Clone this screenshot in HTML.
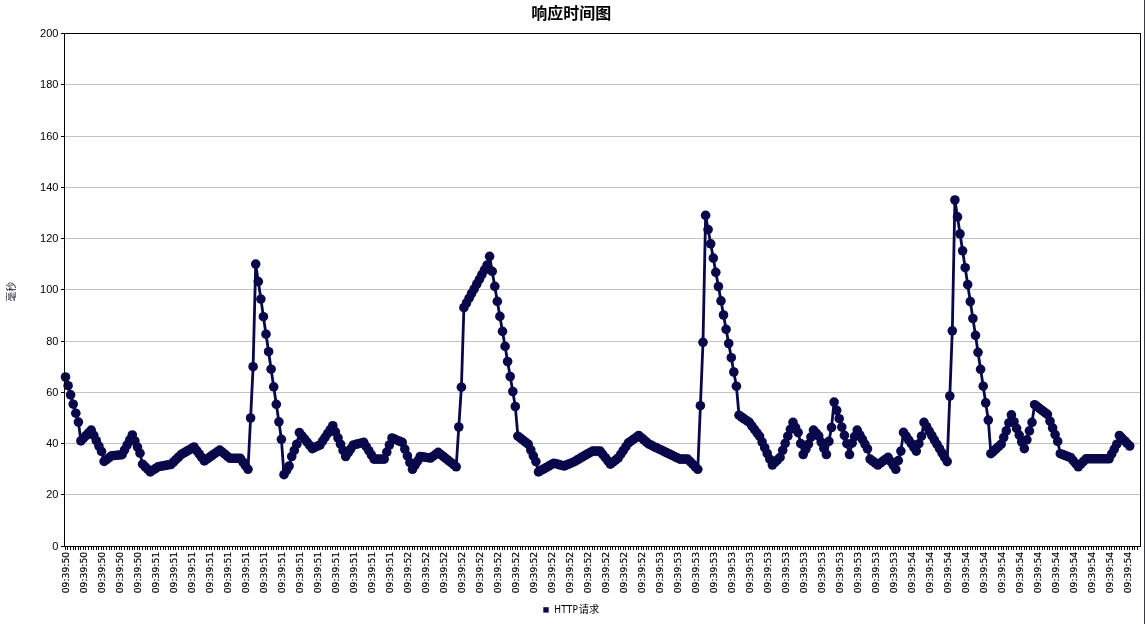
<!DOCTYPE html><html><head><meta charset="utf-8"><title>响应时间图</title><style>html,body{margin:0;padding:0;background:#fff}svg{display:block;will-change:transform}text{font-family:"Liberation Sans","Noto Sans CJK SC",sans-serif}.xl{font-family:"DejaVu Sans","Liberation Sans",sans-serif}.lg{font-family:"DejaVu Sans Condensed","Liberation Sans","Noto Sans CJK SC",sans-serif}</style></head><body>
<svg width="1145" height="624" viewBox="0 0 1145 624">
<rect width="1145" height="624" fill="#fff"/>
<rect x="65" y="494" width="1075" height="1" fill="#c3c3c7" shape-rendering="crispEdges"/>
<rect x="65" y="443" width="1075" height="1" fill="#c3c3c7" shape-rendering="crispEdges"/>
<rect x="65" y="392" width="1075" height="1" fill="#c3c3c7" shape-rendering="crispEdges"/>
<rect x="65" y="341" width="1075" height="1" fill="#c3c3c7" shape-rendering="crispEdges"/>
<rect x="65" y="289" width="1075" height="1" fill="#c3c3c7" shape-rendering="crispEdges"/>
<rect x="65" y="238" width="1075" height="1" fill="#c3c3c7" shape-rendering="crispEdges"/>
<rect x="65" y="187" width="1075" height="1" fill="#c3c3c7" shape-rendering="crispEdges"/>
<rect x="65" y="136" width="1075" height="1" fill="#c3c3c7" shape-rendering="crispEdges"/>
<rect x="65" y="84" width="1075" height="1" fill="#c3c3c7" shape-rendering="crispEdges"/>
<polyline points="65.5,377.0 68.1,385.7 70.6,394.9 73.2,404.2 75.8,413.2 78.4,422.1 80.9,440.9 83.5,438.2 86.1,435.5 88.6,432.8 91.2,430.1 93.8,435.4 96.3,440.7 98.9,446.1 101.5,451.4 104.1,461.4 106.6,459.5 109.2,457.6 111.8,455.7 114.3,455.5 116.9,455.2 119.5,455.0 122.1,454.7 124.6,449.8 127.2,444.8 129.8,439.9 132.3,435.0 134.9,441.0 137.5,447.1 140.0,453.2 142.6,464.2 145.2,466.8 147.8,469.3 150.3,471.9 152.9,470.2 155.5,468.5 158.0,466.8 160.6,466.3 163.2,465.8 165.7,465.4 168.3,464.9 170.9,464.5 173.5,462.0 176.0,459.5 178.6,457.0 181.2,454.5 183.7,453.0 186.3,451.5 188.9,450.0 191.5,448.5 194.0,447.0 196.6,450.5 199.2,453.9 201.7,457.4 204.3,460.9 206.9,459.1 209.4,457.3 212.0,455.5 214.6,453.7 217.2,451.9 219.7,450.1 222.3,452.1 224.9,454.2 227.4,456.3 230.0,458.3 232.6,458.3 235.2,458.3 237.7,458.3 240.3,458.3 242.9,462.0 245.4,465.7 248.0,469.3 250.6,418.0 253.1,366.7 255.7,264.1 258.3,281.6 260.9,299.1 263.4,316.7 266.0,334.2 268.6,351.7 271.1,369.2 273.7,386.8 276.3,404.3 278.9,421.8 281.4,439.3 284.0,474.7 286.6,470.4 289.1,466.0 291.7,456.5 294.3,450.4 296.8,444.2 299.4,432.6 302.0,435.8 304.6,439.0 307.1,442.2 309.7,445.4 312.3,448.6 314.8,447.4 317.4,446.2 320.0,445.0 322.6,441.1 325.1,437.3 327.7,433.4 330.3,429.6 332.8,425.7 335.4,431.9 338.0,438.0 340.5,444.2 343.1,450.4 345.7,456.5 348.3,452.7 350.8,448.8 353.4,445.0 356.0,444.3 358.5,443.7 361.1,443.0 363.7,442.4 366.2,446.6 368.8,450.7 371.4,454.9 374.0,459.1 376.5,459.1 379.1,459.1 381.7,459.1 384.2,459.1 386.8,452.1 389.4,445.0 392.0,438.0 394.5,439.1 397.1,440.2 399.7,441.3 402.2,442.4 404.8,449.1 407.4,455.9 409.9,462.6 412.5,469.3 415.1,465.1 417.7,460.8 420.2,456.5 422.8,456.9 425.4,457.3 427.9,457.7 430.5,458.0 433.1,456.2 435.7,454.3 438.2,452.4 440.8,454.5 443.4,456.5 445.9,458.6 448.5,460.6 451.1,462.7 453.6,464.7 456.2,466.8 458.8,427.0 461.4,387.2 463.9,307.7 466.5,303.0 469.1,298.2 471.6,293.5 474.2,288.8 476.8,284.0 479.4,279.3 481.9,274.6 484.5,269.9 487.1,265.1 489.6,256.4 492.2,271.4 494.8,286.4 497.3,301.4 499.9,316.4 502.5,331.4 505.1,346.4 507.6,361.5 510.2,376.5 512.8,391.5 515.3,406.5 517.9,436.2 520.5,438.2 523.0,440.2 525.6,442.2 528.2,444.2 530.8,450.0 533.3,455.8 535.9,461.6 538.5,471.9 541.0,470.4 543.6,469.0 546.2,467.5 548.8,466.1 551.3,464.6 553.9,463.2 556.5,463.9 559.0,464.6 561.6,465.3 564.2,466.0 566.7,464.9 569.3,463.8 571.9,462.7 574.5,461.6 577.0,460.1 579.6,458.6 582.2,457.0 584.7,455.5 587.3,454.0 589.9,452.6 592.5,451.1 595.0,451.1 597.6,451.1 600.2,451.1 602.7,454.4 605.3,457.7 607.9,460.9 610.4,464.2 613.0,462.2 615.6,460.1 618.2,458.0 620.7,454.3 623.3,450.5 625.9,446.7 628.4,442.9 631.0,441.1 633.6,439.2 636.2,437.3 638.7,435.5 641.3,437.7 643.9,439.8 646.4,442.0 649.0,444.2 651.6,445.4 654.1,446.7 656.7,447.9 659.3,449.2 661.9,450.4 664.4,451.6 667.0,452.9 669.6,454.1 672.1,455.4 674.7,456.6 677.3,457.8 679.9,459.1 682.4,459.1 685.0,459.1 687.6,459.1 690.1,461.6 692.7,464.2 695.3,466.8 697.8,469.3 700.4,405.7 703.0,342.3 705.6,215.4 708.1,229.6 710.7,243.8 713.3,258.1 715.8,272.3 718.4,286.5 721.0,300.8 723.5,315.0 726.1,329.3 728.7,343.5 731.3,357.7 733.8,372.0 736.4,386.2 739.0,415.2 741.5,417.0 744.1,418.8 746.7,420.6 749.3,422.4 751.8,425.8 754.4,429.3 757.0,432.8 759.5,436.2 762.1,442.0 764.7,447.7 767.2,453.5 769.8,459.2 772.4,465.0 775.0,462.4 777.5,459.8 780.1,457.3 782.7,450.3 785.2,443.3 787.8,436.2 790.4,429.3 793.0,422.4 795.5,427.5 798.1,432.6 800.7,443.6 803.2,454.5 805.8,449.3 808.4,444.2 810.9,437.1 813.5,430.1 816.1,433.0 818.7,436.0 821.2,442.1 823.8,448.3 826.4,454.5 828.9,441.4 831.5,427.5 834.1,402.1 836.7,410.4 839.2,418.7 841.8,427.1 844.4,435.4 846.9,443.7 849.5,454.5 852.1,443.2 854.6,436.6 857.2,430.1 859.8,434.8 862.4,439.4 864.9,444.1 867.5,448.8 870.1,459.1 872.6,461.0 875.2,463.0 877.8,465.0 880.3,463.0 882.9,461.1 885.5,459.2 888.1,457.3 890.6,461.3 893.2,465.3 895.8,469.3 898.3,460.6 900.9,451.1 903.5,432.4 906.1,436.1 908.6,439.9 911.2,443.6 913.8,447.4 916.3,451.1 918.9,443.7 921.5,436.2 924.0,422.4 926.6,426.7 929.2,431.1 931.8,435.5 934.3,439.8 936.9,444.2 939.5,448.6 942.0,452.9 944.6,457.3 947.2,461.6 949.8,396.0 952.3,330.8 954.9,200.0 957.5,216.9 960.0,233.8 962.6,250.8 965.2,267.7 967.7,284.6 970.3,301.6 972.9,318.5 975.5,335.4 978.0,352.3 980.6,369.3 983.2,386.2 985.7,402.9 988.3,420.1 990.9,453.7 993.5,451.3 996.0,448.9 998.6,446.6 1001.2,444.2 1003.7,437.5 1006.3,430.9 1008.9,422.9 1011.4,414.9 1014.0,421.7 1016.6,428.4 1019.2,435.1 1021.7,441.8 1024.3,448.6 1026.9,439.8 1029.4,430.9 1032.0,422.4 1034.6,404.7 1037.2,406.6 1039.7,408.6 1042.3,410.5 1044.9,412.5 1047.4,414.4 1050.0,421.2 1052.6,427.9 1055.1,434.6 1057.7,441.4 1060.3,453.7 1062.9,454.6 1065.4,455.6 1068.0,456.6 1070.6,457.5 1073.1,460.6 1075.7,463.7 1078.3,466.8 1080.8,464.1 1083.4,461.5 1086.0,458.8 1088.6,458.8 1091.1,458.8 1093.7,458.8 1096.3,458.8 1098.8,458.8 1101.4,458.8 1104.0,458.8 1106.6,458.8 1109.1,458.8 1111.7,453.9 1114.3,449.1 1116.8,444.2 1119.4,435.5 1122.0,438.1 1124.5,440.7 1127.1,443.4 1129.7,446.0" fill="none" stroke="#08084a" stroke-width="2.8" stroke-linejoin="round" stroke-linecap="round"/>
<g fill="#08084a"><circle cx="65.5" cy="377.0" r="4.8"/><circle cx="68.1" cy="385.7" r="4.8"/><circle cx="70.6" cy="394.9" r="4.8"/><circle cx="73.2" cy="404.2" r="4.8"/><circle cx="75.8" cy="413.2" r="4.8"/><circle cx="78.4" cy="422.1" r="4.8"/><circle cx="80.9" cy="440.9" r="4.8"/><circle cx="83.5" cy="438.2" r="4.8"/><circle cx="86.1" cy="435.5" r="4.8"/><circle cx="88.6" cy="432.8" r="4.8"/><circle cx="91.2" cy="430.1" r="4.8"/><circle cx="93.8" cy="435.4" r="4.8"/><circle cx="96.3" cy="440.7" r="4.8"/><circle cx="98.9" cy="446.1" r="4.8"/><circle cx="101.5" cy="451.4" r="4.8"/><circle cx="104.1" cy="461.4" r="4.8"/><circle cx="106.6" cy="459.5" r="4.8"/><circle cx="109.2" cy="457.6" r="4.8"/><circle cx="111.8" cy="455.7" r="4.8"/><circle cx="114.3" cy="455.5" r="4.8"/><circle cx="116.9" cy="455.2" r="4.8"/><circle cx="119.5" cy="455.0" r="4.8"/><circle cx="122.1" cy="454.7" r="4.8"/><circle cx="124.6" cy="449.8" r="4.8"/><circle cx="127.2" cy="444.8" r="4.8"/><circle cx="129.8" cy="439.9" r="4.8"/><circle cx="132.3" cy="435.0" r="4.8"/><circle cx="134.9" cy="441.0" r="4.8"/><circle cx="137.5" cy="447.1" r="4.8"/><circle cx="140.0" cy="453.2" r="4.8"/><circle cx="142.6" cy="464.2" r="4.8"/><circle cx="145.2" cy="466.8" r="4.8"/><circle cx="147.8" cy="469.3" r="4.8"/><circle cx="150.3" cy="471.9" r="4.8"/><circle cx="152.9" cy="470.2" r="4.8"/><circle cx="155.5" cy="468.5" r="4.8"/><circle cx="158.0" cy="466.8" r="4.8"/><circle cx="160.6" cy="466.3" r="4.8"/><circle cx="163.2" cy="465.8" r="4.8"/><circle cx="165.7" cy="465.4" r="4.8"/><circle cx="168.3" cy="464.9" r="4.8"/><circle cx="170.9" cy="464.5" r="4.8"/><circle cx="173.5" cy="462.0" r="4.8"/><circle cx="176.0" cy="459.5" r="4.8"/><circle cx="178.6" cy="457.0" r="4.8"/><circle cx="181.2" cy="454.5" r="4.8"/><circle cx="183.7" cy="453.0" r="4.8"/><circle cx="186.3" cy="451.5" r="4.8"/><circle cx="188.9" cy="450.0" r="4.8"/><circle cx="191.5" cy="448.5" r="4.8"/><circle cx="194.0" cy="447.0" r="4.8"/><circle cx="196.6" cy="450.5" r="4.8"/><circle cx="199.2" cy="453.9" r="4.8"/><circle cx="201.7" cy="457.4" r="4.8"/><circle cx="204.3" cy="460.9" r="4.8"/><circle cx="206.9" cy="459.1" r="4.8"/><circle cx="209.4" cy="457.3" r="4.8"/><circle cx="212.0" cy="455.5" r="4.8"/><circle cx="214.6" cy="453.7" r="4.8"/><circle cx="217.2" cy="451.9" r="4.8"/><circle cx="219.7" cy="450.1" r="4.8"/><circle cx="222.3" cy="452.1" r="4.8"/><circle cx="224.9" cy="454.2" r="4.8"/><circle cx="227.4" cy="456.3" r="4.8"/><circle cx="230.0" cy="458.3" r="4.8"/><circle cx="232.6" cy="458.3" r="4.8"/><circle cx="235.2" cy="458.3" r="4.8"/><circle cx="237.7" cy="458.3" r="4.8"/><circle cx="240.3" cy="458.3" r="4.8"/><circle cx="242.9" cy="462.0" r="4.8"/><circle cx="245.4" cy="465.7" r="4.8"/><circle cx="248.0" cy="469.3" r="4.8"/><circle cx="250.6" cy="418.0" r="4.8"/><circle cx="253.1" cy="366.7" r="4.8"/><circle cx="255.7" cy="264.1" r="4.8"/><circle cx="258.3" cy="281.6" r="4.8"/><circle cx="260.9" cy="299.1" r="4.8"/><circle cx="263.4" cy="316.7" r="4.8"/><circle cx="266.0" cy="334.2" r="4.8"/><circle cx="268.6" cy="351.7" r="4.8"/><circle cx="271.1" cy="369.2" r="4.8"/><circle cx="273.7" cy="386.8" r="4.8"/><circle cx="276.3" cy="404.3" r="4.8"/><circle cx="278.9" cy="421.8" r="4.8"/><circle cx="281.4" cy="439.3" r="4.8"/><circle cx="284.0" cy="474.7" r="4.8"/><circle cx="286.6" cy="470.4" r="4.8"/><circle cx="289.1" cy="466.0" r="4.8"/><circle cx="291.7" cy="456.5" r="4.8"/><circle cx="294.3" cy="450.4" r="4.8"/><circle cx="296.8" cy="444.2" r="4.8"/><circle cx="299.4" cy="432.6" r="4.8"/><circle cx="302.0" cy="435.8" r="4.8"/><circle cx="304.6" cy="439.0" r="4.8"/><circle cx="307.1" cy="442.2" r="4.8"/><circle cx="309.7" cy="445.4" r="4.8"/><circle cx="312.3" cy="448.6" r="4.8"/><circle cx="314.8" cy="447.4" r="4.8"/><circle cx="317.4" cy="446.2" r="4.8"/><circle cx="320.0" cy="445.0" r="4.8"/><circle cx="322.6" cy="441.1" r="4.8"/><circle cx="325.1" cy="437.3" r="4.8"/><circle cx="327.7" cy="433.4" r="4.8"/><circle cx="330.3" cy="429.6" r="4.8"/><circle cx="332.8" cy="425.7" r="4.8"/><circle cx="335.4" cy="431.9" r="4.8"/><circle cx="338.0" cy="438.0" r="4.8"/><circle cx="340.5" cy="444.2" r="4.8"/><circle cx="343.1" cy="450.4" r="4.8"/><circle cx="345.7" cy="456.5" r="4.8"/><circle cx="348.3" cy="452.7" r="4.8"/><circle cx="350.8" cy="448.8" r="4.8"/><circle cx="353.4" cy="445.0" r="4.8"/><circle cx="356.0" cy="444.3" r="4.8"/><circle cx="358.5" cy="443.7" r="4.8"/><circle cx="361.1" cy="443.0" r="4.8"/><circle cx="363.7" cy="442.4" r="4.8"/><circle cx="366.2" cy="446.6" r="4.8"/><circle cx="368.8" cy="450.7" r="4.8"/><circle cx="371.4" cy="454.9" r="4.8"/><circle cx="374.0" cy="459.1" r="4.8"/><circle cx="376.5" cy="459.1" r="4.8"/><circle cx="379.1" cy="459.1" r="4.8"/><circle cx="381.7" cy="459.1" r="4.8"/><circle cx="384.2" cy="459.1" r="4.8"/><circle cx="386.8" cy="452.1" r="4.8"/><circle cx="389.4" cy="445.0" r="4.8"/><circle cx="392.0" cy="438.0" r="4.8"/><circle cx="394.5" cy="439.1" r="4.8"/><circle cx="397.1" cy="440.2" r="4.8"/><circle cx="399.7" cy="441.3" r="4.8"/><circle cx="402.2" cy="442.4" r="4.8"/><circle cx="404.8" cy="449.1" r="4.8"/><circle cx="407.4" cy="455.9" r="4.8"/><circle cx="409.9" cy="462.6" r="4.8"/><circle cx="412.5" cy="469.3" r="4.8"/><circle cx="415.1" cy="465.1" r="4.8"/><circle cx="417.7" cy="460.8" r="4.8"/><circle cx="420.2" cy="456.5" r="4.8"/><circle cx="422.8" cy="456.9" r="4.8"/><circle cx="425.4" cy="457.3" r="4.8"/><circle cx="427.9" cy="457.7" r="4.8"/><circle cx="430.5" cy="458.0" r="4.8"/><circle cx="433.1" cy="456.2" r="4.8"/><circle cx="435.7" cy="454.3" r="4.8"/><circle cx="438.2" cy="452.4" r="4.8"/><circle cx="440.8" cy="454.5" r="4.8"/><circle cx="443.4" cy="456.5" r="4.8"/><circle cx="445.9" cy="458.6" r="4.8"/><circle cx="448.5" cy="460.6" r="4.8"/><circle cx="451.1" cy="462.7" r="4.8"/><circle cx="453.6" cy="464.7" r="4.8"/><circle cx="456.2" cy="466.8" r="4.8"/><circle cx="458.8" cy="427.0" r="4.8"/><circle cx="461.4" cy="387.2" r="4.8"/><circle cx="463.9" cy="307.7" r="4.8"/><circle cx="466.5" cy="303.0" r="4.8"/><circle cx="469.1" cy="298.2" r="4.8"/><circle cx="471.6" cy="293.5" r="4.8"/><circle cx="474.2" cy="288.8" r="4.8"/><circle cx="476.8" cy="284.0" r="4.8"/><circle cx="479.4" cy="279.3" r="4.8"/><circle cx="481.9" cy="274.6" r="4.8"/><circle cx="484.5" cy="269.9" r="4.8"/><circle cx="487.1" cy="265.1" r="4.8"/><circle cx="489.6" cy="256.4" r="4.8"/><circle cx="492.2" cy="271.4" r="4.8"/><circle cx="494.8" cy="286.4" r="4.8"/><circle cx="497.3" cy="301.4" r="4.8"/><circle cx="499.9" cy="316.4" r="4.8"/><circle cx="502.5" cy="331.4" r="4.8"/><circle cx="505.1" cy="346.4" r="4.8"/><circle cx="507.6" cy="361.5" r="4.8"/><circle cx="510.2" cy="376.5" r="4.8"/><circle cx="512.8" cy="391.5" r="4.8"/><circle cx="515.3" cy="406.5" r="4.8"/><circle cx="517.9" cy="436.2" r="4.8"/><circle cx="520.5" cy="438.2" r="4.8"/><circle cx="523.0" cy="440.2" r="4.8"/><circle cx="525.6" cy="442.2" r="4.8"/><circle cx="528.2" cy="444.2" r="4.8"/><circle cx="530.8" cy="450.0" r="4.8"/><circle cx="533.3" cy="455.8" r="4.8"/><circle cx="535.9" cy="461.6" r="4.8"/><circle cx="538.5" cy="471.9" r="4.8"/><circle cx="541.0" cy="470.4" r="4.8"/><circle cx="543.6" cy="469.0" r="4.8"/><circle cx="546.2" cy="467.5" r="4.8"/><circle cx="548.8" cy="466.1" r="4.8"/><circle cx="551.3" cy="464.6" r="4.8"/><circle cx="553.9" cy="463.2" r="4.8"/><circle cx="556.5" cy="463.9" r="4.8"/><circle cx="559.0" cy="464.6" r="4.8"/><circle cx="561.6" cy="465.3" r="4.8"/><circle cx="564.2" cy="466.0" r="4.8"/><circle cx="566.7" cy="464.9" r="4.8"/><circle cx="569.3" cy="463.8" r="4.8"/><circle cx="571.9" cy="462.7" r="4.8"/><circle cx="574.5" cy="461.6" r="4.8"/><circle cx="577.0" cy="460.1" r="4.8"/><circle cx="579.6" cy="458.6" r="4.8"/><circle cx="582.2" cy="457.0" r="4.8"/><circle cx="584.7" cy="455.5" r="4.8"/><circle cx="587.3" cy="454.0" r="4.8"/><circle cx="589.9" cy="452.6" r="4.8"/><circle cx="592.5" cy="451.1" r="4.8"/><circle cx="595.0" cy="451.1" r="4.8"/><circle cx="597.6" cy="451.1" r="4.8"/><circle cx="600.2" cy="451.1" r="4.8"/><circle cx="602.7" cy="454.4" r="4.8"/><circle cx="605.3" cy="457.7" r="4.8"/><circle cx="607.9" cy="460.9" r="4.8"/><circle cx="610.4" cy="464.2" r="4.8"/><circle cx="613.0" cy="462.2" r="4.8"/><circle cx="615.6" cy="460.1" r="4.8"/><circle cx="618.2" cy="458.0" r="4.8"/><circle cx="620.7" cy="454.3" r="4.8"/><circle cx="623.3" cy="450.5" r="4.8"/><circle cx="625.9" cy="446.7" r="4.8"/><circle cx="628.4" cy="442.9" r="4.8"/><circle cx="631.0" cy="441.1" r="4.8"/><circle cx="633.6" cy="439.2" r="4.8"/><circle cx="636.2" cy="437.3" r="4.8"/><circle cx="638.7" cy="435.5" r="4.8"/><circle cx="641.3" cy="437.7" r="4.8"/><circle cx="643.9" cy="439.8" r="4.8"/><circle cx="646.4" cy="442.0" r="4.8"/><circle cx="649.0" cy="444.2" r="4.8"/><circle cx="651.6" cy="445.4" r="4.8"/><circle cx="654.1" cy="446.7" r="4.8"/><circle cx="656.7" cy="447.9" r="4.8"/><circle cx="659.3" cy="449.2" r="4.8"/><circle cx="661.9" cy="450.4" r="4.8"/><circle cx="664.4" cy="451.6" r="4.8"/><circle cx="667.0" cy="452.9" r="4.8"/><circle cx="669.6" cy="454.1" r="4.8"/><circle cx="672.1" cy="455.4" r="4.8"/><circle cx="674.7" cy="456.6" r="4.8"/><circle cx="677.3" cy="457.8" r="4.8"/><circle cx="679.9" cy="459.1" r="4.8"/><circle cx="682.4" cy="459.1" r="4.8"/><circle cx="685.0" cy="459.1" r="4.8"/><circle cx="687.6" cy="459.1" r="4.8"/><circle cx="690.1" cy="461.6" r="4.8"/><circle cx="692.7" cy="464.2" r="4.8"/><circle cx="695.3" cy="466.8" r="4.8"/><circle cx="697.8" cy="469.3" r="4.8"/><circle cx="700.4" cy="405.7" r="4.8"/><circle cx="703.0" cy="342.3" r="4.8"/><circle cx="705.6" cy="215.4" r="4.8"/><circle cx="708.1" cy="229.6" r="4.8"/><circle cx="710.7" cy="243.8" r="4.8"/><circle cx="713.3" cy="258.1" r="4.8"/><circle cx="715.8" cy="272.3" r="4.8"/><circle cx="718.4" cy="286.5" r="4.8"/><circle cx="721.0" cy="300.8" r="4.8"/><circle cx="723.5" cy="315.0" r="4.8"/><circle cx="726.1" cy="329.3" r="4.8"/><circle cx="728.7" cy="343.5" r="4.8"/><circle cx="731.3" cy="357.7" r="4.8"/><circle cx="733.8" cy="372.0" r="4.8"/><circle cx="736.4" cy="386.2" r="4.8"/><circle cx="739.0" cy="415.2" r="4.8"/><circle cx="741.5" cy="417.0" r="4.8"/><circle cx="744.1" cy="418.8" r="4.8"/><circle cx="746.7" cy="420.6" r="4.8"/><circle cx="749.3" cy="422.4" r="4.8"/><circle cx="751.8" cy="425.8" r="4.8"/><circle cx="754.4" cy="429.3" r="4.8"/><circle cx="757.0" cy="432.8" r="4.8"/><circle cx="759.5" cy="436.2" r="4.8"/><circle cx="762.1" cy="442.0" r="4.8"/><circle cx="764.7" cy="447.7" r="4.8"/><circle cx="767.2" cy="453.5" r="4.8"/><circle cx="769.8" cy="459.2" r="4.8"/><circle cx="772.4" cy="465.0" r="4.8"/><circle cx="775.0" cy="462.4" r="4.8"/><circle cx="777.5" cy="459.8" r="4.8"/><circle cx="780.1" cy="457.3" r="4.8"/><circle cx="782.7" cy="450.3" r="4.8"/><circle cx="785.2" cy="443.3" r="4.8"/><circle cx="787.8" cy="436.2" r="4.8"/><circle cx="790.4" cy="429.3" r="4.8"/><circle cx="793.0" cy="422.4" r="4.8"/><circle cx="795.5" cy="427.5" r="4.8"/><circle cx="798.1" cy="432.6" r="4.8"/><circle cx="800.7" cy="443.6" r="4.8"/><circle cx="803.2" cy="454.5" r="4.8"/><circle cx="805.8" cy="449.3" r="4.8"/><circle cx="808.4" cy="444.2" r="4.8"/><circle cx="810.9" cy="437.1" r="4.8"/><circle cx="813.5" cy="430.1" r="4.8"/><circle cx="816.1" cy="433.0" r="4.8"/><circle cx="818.7" cy="436.0" r="4.8"/><circle cx="821.2" cy="442.1" r="4.8"/><circle cx="823.8" cy="448.3" r="4.8"/><circle cx="826.4" cy="454.5" r="4.8"/><circle cx="828.9" cy="441.4" r="4.8"/><circle cx="831.5" cy="427.5" r="4.8"/><circle cx="834.1" cy="402.1" r="4.8"/><circle cx="836.7" cy="410.4" r="4.8"/><circle cx="839.2" cy="418.7" r="4.8"/><circle cx="841.8" cy="427.1" r="4.8"/><circle cx="844.4" cy="435.4" r="4.8"/><circle cx="846.9" cy="443.7" r="4.8"/><circle cx="849.5" cy="454.5" r="4.8"/><circle cx="852.1" cy="443.2" r="4.8"/><circle cx="854.6" cy="436.6" r="4.8"/><circle cx="857.2" cy="430.1" r="4.8"/><circle cx="859.8" cy="434.8" r="4.8"/><circle cx="862.4" cy="439.4" r="4.8"/><circle cx="864.9" cy="444.1" r="4.8"/><circle cx="867.5" cy="448.8" r="4.8"/><circle cx="870.1" cy="459.1" r="4.8"/><circle cx="872.6" cy="461.0" r="4.8"/><circle cx="875.2" cy="463.0" r="4.8"/><circle cx="877.8" cy="465.0" r="4.8"/><circle cx="880.3" cy="463.0" r="4.8"/><circle cx="882.9" cy="461.1" r="4.8"/><circle cx="885.5" cy="459.2" r="4.8"/><circle cx="888.1" cy="457.3" r="4.8"/><circle cx="890.6" cy="461.3" r="4.8"/><circle cx="893.2" cy="465.3" r="4.8"/><circle cx="895.8" cy="469.3" r="4.8"/><circle cx="898.3" cy="460.6" r="4.8"/><circle cx="900.9" cy="451.1" r="4.8"/><circle cx="903.5" cy="432.4" r="4.8"/><circle cx="906.1" cy="436.1" r="4.8"/><circle cx="908.6" cy="439.9" r="4.8"/><circle cx="911.2" cy="443.6" r="4.8"/><circle cx="913.8" cy="447.4" r="4.8"/><circle cx="916.3" cy="451.1" r="4.8"/><circle cx="918.9" cy="443.7" r="4.8"/><circle cx="921.5" cy="436.2" r="4.8"/><circle cx="924.0" cy="422.4" r="4.8"/><circle cx="926.6" cy="426.7" r="4.8"/><circle cx="929.2" cy="431.1" r="4.8"/><circle cx="931.8" cy="435.5" r="4.8"/><circle cx="934.3" cy="439.8" r="4.8"/><circle cx="936.9" cy="444.2" r="4.8"/><circle cx="939.5" cy="448.6" r="4.8"/><circle cx="942.0" cy="452.9" r="4.8"/><circle cx="944.6" cy="457.3" r="4.8"/><circle cx="947.2" cy="461.6" r="4.8"/><circle cx="949.8" cy="396.0" r="4.8"/><circle cx="952.3" cy="330.8" r="4.8"/><circle cx="954.9" cy="200.0" r="4.8"/><circle cx="957.5" cy="216.9" r="4.8"/><circle cx="960.0" cy="233.8" r="4.8"/><circle cx="962.6" cy="250.8" r="4.8"/><circle cx="965.2" cy="267.7" r="4.8"/><circle cx="967.7" cy="284.6" r="4.8"/><circle cx="970.3" cy="301.6" r="4.8"/><circle cx="972.9" cy="318.5" r="4.8"/><circle cx="975.5" cy="335.4" r="4.8"/><circle cx="978.0" cy="352.3" r="4.8"/><circle cx="980.6" cy="369.3" r="4.8"/><circle cx="983.2" cy="386.2" r="4.8"/><circle cx="985.7" cy="402.9" r="4.8"/><circle cx="988.3" cy="420.1" r="4.8"/><circle cx="990.9" cy="453.7" r="4.8"/><circle cx="993.5" cy="451.3" r="4.8"/><circle cx="996.0" cy="448.9" r="4.8"/><circle cx="998.6" cy="446.6" r="4.8"/><circle cx="1001.2" cy="444.2" r="4.8"/><circle cx="1003.7" cy="437.5" r="4.8"/><circle cx="1006.3" cy="430.9" r="4.8"/><circle cx="1008.9" cy="422.9" r="4.8"/><circle cx="1011.4" cy="414.9" r="4.8"/><circle cx="1014.0" cy="421.7" r="4.8"/><circle cx="1016.6" cy="428.4" r="4.8"/><circle cx="1019.2" cy="435.1" r="4.8"/><circle cx="1021.7" cy="441.8" r="4.8"/><circle cx="1024.3" cy="448.6" r="4.8"/><circle cx="1026.9" cy="439.8" r="4.8"/><circle cx="1029.4" cy="430.9" r="4.8"/><circle cx="1032.0" cy="422.4" r="4.8"/><circle cx="1034.6" cy="404.7" r="4.8"/><circle cx="1037.2" cy="406.6" r="4.8"/><circle cx="1039.7" cy="408.6" r="4.8"/><circle cx="1042.3" cy="410.5" r="4.8"/><circle cx="1044.9" cy="412.5" r="4.8"/><circle cx="1047.4" cy="414.4" r="4.8"/><circle cx="1050.0" cy="421.2" r="4.8"/><circle cx="1052.6" cy="427.9" r="4.8"/><circle cx="1055.1" cy="434.6" r="4.8"/><circle cx="1057.7" cy="441.4" r="4.8"/><circle cx="1060.3" cy="453.7" r="4.8"/><circle cx="1062.9" cy="454.6" r="4.8"/><circle cx="1065.4" cy="455.6" r="4.8"/><circle cx="1068.0" cy="456.6" r="4.8"/><circle cx="1070.6" cy="457.5" r="4.8"/><circle cx="1073.1" cy="460.6" r="4.8"/><circle cx="1075.7" cy="463.7" r="4.8"/><circle cx="1078.3" cy="466.8" r="4.8"/><circle cx="1080.8" cy="464.1" r="4.8"/><circle cx="1083.4" cy="461.5" r="4.8"/><circle cx="1086.0" cy="458.8" r="4.8"/><circle cx="1088.6" cy="458.8" r="4.8"/><circle cx="1091.1" cy="458.8" r="4.8"/><circle cx="1093.7" cy="458.8" r="4.8"/><circle cx="1096.3" cy="458.8" r="4.8"/><circle cx="1098.8" cy="458.8" r="4.8"/><circle cx="1101.4" cy="458.8" r="4.8"/><circle cx="1104.0" cy="458.8" r="4.8"/><circle cx="1106.6" cy="458.8" r="4.8"/><circle cx="1109.1" cy="458.8" r="4.8"/><circle cx="1111.7" cy="453.9" r="4.8"/><circle cx="1114.3" cy="449.1" r="4.8"/><circle cx="1116.8" cy="444.2" r="4.8"/><circle cx="1119.4" cy="435.5" r="4.8"/><circle cx="1122.0" cy="438.1" r="4.8"/><circle cx="1124.5" cy="440.7" r="4.8"/><circle cx="1127.1" cy="443.4" r="4.8"/><circle cx="1129.7" cy="446.0" r="4.8"/></g>
<g fill="#000" shape-rendering="crispEdges">
<rect x="65" y="547" width="1" height="3"/><rect x="67" y="547" width="1" height="3"/><rect x="70" y="547" width="1" height="3"/><rect x="73" y="547" width="1" height="3"/><rect x="75" y="547" width="1" height="3"/><rect x="78" y="547" width="1" height="3"/><rect x="80" y="547" width="1" height="3"/><rect x="83" y="547" width="1" height="3"/><rect x="85" y="547" width="1" height="3"/><rect x="88" y="547" width="1" height="3"/><rect x="91" y="547" width="1" height="3"/><rect x="93" y="547" width="1" height="3"/><rect x="96" y="547" width="1" height="3"/><rect x="98" y="547" width="1" height="3"/><rect x="101" y="547" width="1" height="3"/><rect x="103" y="547" width="1" height="3"/><rect x="106" y="547" width="1" height="3"/><rect x="109" y="547" width="1" height="3"/><rect x="111" y="547" width="1" height="3"/><rect x="114" y="547" width="1" height="3"/><rect x="116" y="547" width="1" height="3"/><rect x="119" y="547" width="1" height="3"/><rect x="121" y="547" width="1" height="3"/><rect x="124" y="547" width="1" height="3"/><rect x="127" y="547" width="1" height="3"/><rect x="129" y="547" width="1" height="3"/><rect x="132" y="547" width="1" height="3"/><rect x="134" y="547" width="1" height="3"/><rect x="137" y="547" width="1" height="3"/><rect x="139" y="547" width="1" height="3"/><rect x="142" y="547" width="1" height="3"/><rect x="145" y="547" width="1" height="3"/><rect x="147" y="547" width="1" height="3"/><rect x="150" y="547" width="1" height="3"/><rect x="152" y="547" width="1" height="3"/><rect x="155" y="547" width="1" height="3"/><rect x="157" y="547" width="1" height="3"/><rect x="160" y="547" width="1" height="3"/><rect x="163" y="547" width="1" height="3"/><rect x="165" y="547" width="1" height="3"/><rect x="168" y="547" width="1" height="3"/><rect x="170" y="547" width="1" height="3"/><rect x="173" y="547" width="1" height="3"/><rect x="175" y="547" width="1" height="3"/><rect x="178" y="547" width="1" height="3"/><rect x="181" y="547" width="1" height="3"/><rect x="183" y="547" width="1" height="3"/><rect x="186" y="547" width="1" height="3"/><rect x="188" y="547" width="1" height="3"/><rect x="191" y="547" width="1" height="3"/><rect x="193" y="547" width="1" height="3"/><rect x="196" y="547" width="1" height="3"/><rect x="199" y="547" width="1" height="3"/><rect x="201" y="547" width="1" height="3"/><rect x="204" y="547" width="1" height="3"/><rect x="206" y="547" width="1" height="3"/><rect x="209" y="547" width="1" height="3"/><rect x="211" y="547" width="1" height="3"/><rect x="214" y="547" width="1" height="3"/><rect x="217" y="547" width="1" height="3"/><rect x="219" y="547" width="1" height="3"/><rect x="222" y="547" width="1" height="3"/><rect x="224" y="547" width="1" height="3"/><rect x="227" y="547" width="1" height="3"/><rect x="229" y="547" width="1" height="3"/><rect x="232" y="547" width="1" height="3"/><rect x="235" y="547" width="1" height="3"/><rect x="237" y="547" width="1" height="3"/><rect x="240" y="547" width="1" height="3"/><rect x="242" y="547" width="1" height="3"/><rect x="245" y="547" width="1" height="3"/><rect x="247" y="547" width="1" height="3"/><rect x="250" y="547" width="1" height="3"/><rect x="253" y="547" width="1" height="3"/><rect x="255" y="547" width="1" height="3"/><rect x="258" y="547" width="1" height="3"/><rect x="260" y="547" width="1" height="3"/><rect x="263" y="547" width="1" height="3"/><rect x="265" y="547" width="1" height="3"/><rect x="268" y="547" width="1" height="3"/><rect x="271" y="547" width="1" height="3"/><rect x="273" y="547" width="1" height="3"/><rect x="276" y="547" width="1" height="3"/><rect x="278" y="547" width="1" height="3"/><rect x="281" y="547" width="1" height="3"/><rect x="283" y="547" width="1" height="3"/><rect x="286" y="547" width="1" height="3"/><rect x="289" y="547" width="1" height="3"/><rect x="291" y="547" width="1" height="3"/><rect x="294" y="547" width="1" height="3"/><rect x="296" y="547" width="1" height="3"/><rect x="299" y="547" width="1" height="3"/><rect x="301" y="547" width="1" height="3"/><rect x="304" y="547" width="1" height="3"/><rect x="307" y="547" width="1" height="3"/><rect x="309" y="547" width="1" height="3"/><rect x="312" y="547" width="1" height="3"/><rect x="314" y="547" width="1" height="3"/><rect x="317" y="547" width="1" height="3"/><rect x="319" y="547" width="1" height="3"/><rect x="322" y="547" width="1" height="3"/><rect x="325" y="547" width="1" height="3"/><rect x="327" y="547" width="1" height="3"/><rect x="330" y="547" width="1" height="3"/><rect x="332" y="547" width="1" height="3"/><rect x="335" y="547" width="1" height="3"/><rect x="337" y="547" width="1" height="3"/><rect x="340" y="547" width="1" height="3"/><rect x="343" y="547" width="1" height="3"/><rect x="345" y="547" width="1" height="3"/><rect x="348" y="547" width="1" height="3"/><rect x="350" y="547" width="1" height="3"/><rect x="353" y="547" width="1" height="3"/><rect x="355" y="547" width="1" height="3"/><rect x="358" y="547" width="1" height="3"/><rect x="361" y="547" width="1" height="3"/><rect x="363" y="547" width="1" height="3"/><rect x="366" y="547" width="1" height="3"/><rect x="368" y="547" width="1" height="3"/><rect x="371" y="547" width="1" height="3"/><rect x="373" y="547" width="1" height="3"/><rect x="376" y="547" width="1" height="3"/><rect x="379" y="547" width="1" height="3"/><rect x="381" y="547" width="1" height="3"/><rect x="384" y="547" width="1" height="3"/><rect x="386" y="547" width="1" height="3"/><rect x="389" y="547" width="1" height="3"/><rect x="391" y="547" width="1" height="3"/><rect x="394" y="547" width="1" height="3"/><rect x="396" y="547" width="1" height="3"/><rect x="399" y="547" width="1" height="3"/><rect x="402" y="547" width="1" height="3"/><rect x="404" y="547" width="1" height="3"/><rect x="407" y="547" width="1" height="3"/><rect x="409" y="547" width="1" height="3"/><rect x="412" y="547" width="1" height="3"/><rect x="414" y="547" width="1" height="3"/><rect x="417" y="547" width="1" height="3"/><rect x="420" y="547" width="1" height="3"/><rect x="422" y="547" width="1" height="3"/><rect x="425" y="547" width="1" height="3"/><rect x="427" y="547" width="1" height="3"/><rect x="430" y="547" width="1" height="3"/><rect x="432" y="547" width="1" height="3"/><rect x="435" y="547" width="1" height="3"/><rect x="438" y="547" width="1" height="3"/><rect x="440" y="547" width="1" height="3"/><rect x="443" y="547" width="1" height="3"/><rect x="445" y="547" width="1" height="3"/><rect x="448" y="547" width="1" height="3"/><rect x="450" y="547" width="1" height="3"/><rect x="453" y="547" width="1" height="3"/><rect x="456" y="547" width="1" height="3"/><rect x="458" y="547" width="1" height="3"/><rect x="461" y="547" width="1" height="3"/><rect x="463" y="547" width="1" height="3"/><rect x="466" y="547" width="1" height="3"/><rect x="468" y="547" width="1" height="3"/><rect x="471" y="547" width="1" height="3"/><rect x="474" y="547" width="1" height="3"/><rect x="476" y="547" width="1" height="3"/><rect x="479" y="547" width="1" height="3"/><rect x="481" y="547" width="1" height="3"/><rect x="484" y="547" width="1" height="3"/><rect x="486" y="547" width="1" height="3"/><rect x="489" y="547" width="1" height="3"/><rect x="492" y="547" width="1" height="3"/><rect x="494" y="547" width="1" height="3"/><rect x="497" y="547" width="1" height="3"/><rect x="499" y="547" width="1" height="3"/><rect x="502" y="547" width="1" height="3"/><rect x="504" y="547" width="1" height="3"/><rect x="507" y="547" width="1" height="3"/><rect x="510" y="547" width="1" height="3"/><rect x="512" y="547" width="1" height="3"/><rect x="515" y="547" width="1" height="3"/><rect x="517" y="547" width="1" height="3"/><rect x="520" y="547" width="1" height="3"/><rect x="522" y="547" width="1" height="3"/><rect x="525" y="547" width="1" height="3"/><rect x="528" y="547" width="1" height="3"/><rect x="530" y="547" width="1" height="3"/><rect x="533" y="547" width="1" height="3"/><rect x="535" y="547" width="1" height="3"/><rect x="538" y="547" width="1" height="3"/><rect x="540" y="547" width="1" height="3"/><rect x="543" y="547" width="1" height="3"/><rect x="546" y="547" width="1" height="3"/><rect x="548" y="547" width="1" height="3"/><rect x="551" y="547" width="1" height="3"/><rect x="553" y="547" width="1" height="3"/><rect x="556" y="547" width="1" height="3"/><rect x="558" y="547" width="1" height="3"/><rect x="561" y="547" width="1" height="3"/><rect x="564" y="547" width="1" height="3"/><rect x="566" y="547" width="1" height="3"/><rect x="569" y="547" width="1" height="3"/><rect x="571" y="547" width="1" height="3"/><rect x="574" y="547" width="1" height="3"/><rect x="576" y="547" width="1" height="3"/><rect x="579" y="547" width="1" height="3"/><rect x="582" y="547" width="1" height="3"/><rect x="584" y="547" width="1" height="3"/><rect x="587" y="547" width="1" height="3"/><rect x="589" y="547" width="1" height="3"/><rect x="592" y="547" width="1" height="3"/><rect x="594" y="547" width="1" height="3"/><rect x="597" y="547" width="1" height="3"/><rect x="600" y="547" width="1" height="3"/><rect x="602" y="547" width="1" height="3"/><rect x="605" y="547" width="1" height="3"/><rect x="607" y="547" width="1" height="3"/><rect x="610" y="547" width="1" height="3"/><rect x="612" y="547" width="1" height="3"/><rect x="615" y="547" width="1" height="3"/><rect x="618" y="547" width="1" height="3"/><rect x="620" y="547" width="1" height="3"/><rect x="623" y="547" width="1" height="3"/><rect x="625" y="547" width="1" height="3"/><rect x="628" y="547" width="1" height="3"/><rect x="630" y="547" width="1" height="3"/><rect x="633" y="547" width="1" height="3"/><rect x="636" y="547" width="1" height="3"/><rect x="638" y="547" width="1" height="3"/><rect x="641" y="547" width="1" height="3"/><rect x="643" y="547" width="1" height="3"/><rect x="646" y="547" width="1" height="3"/><rect x="648" y="547" width="1" height="3"/><rect x="651" y="547" width="1" height="3"/><rect x="654" y="547" width="1" height="3"/><rect x="656" y="547" width="1" height="3"/><rect x="659" y="547" width="1" height="3"/><rect x="661" y="547" width="1" height="3"/><rect x="664" y="547" width="1" height="3"/><rect x="666" y="547" width="1" height="3"/><rect x="669" y="547" width="1" height="3"/><rect x="672" y="547" width="1" height="3"/><rect x="674" y="547" width="1" height="3"/><rect x="677" y="547" width="1" height="3"/><rect x="679" y="547" width="1" height="3"/><rect x="682" y="547" width="1" height="3"/><rect x="684" y="547" width="1" height="3"/><rect x="687" y="547" width="1" height="3"/><rect x="690" y="547" width="1" height="3"/><rect x="692" y="547" width="1" height="3"/><rect x="695" y="547" width="1" height="3"/><rect x="697" y="547" width="1" height="3"/><rect x="700" y="547" width="1" height="3"/><rect x="702" y="547" width="1" height="3"/><rect x="705" y="547" width="1" height="3"/><rect x="708" y="547" width="1" height="3"/><rect x="710" y="547" width="1" height="3"/><rect x="713" y="547" width="1" height="3"/><rect x="715" y="547" width="1" height="3"/><rect x="718" y="547" width="1" height="3"/><rect x="720" y="547" width="1" height="3"/><rect x="723" y="547" width="1" height="3"/><rect x="726" y="547" width="1" height="3"/><rect x="728" y="547" width="1" height="3"/><rect x="731" y="547" width="1" height="3"/><rect x="733" y="547" width="1" height="3"/><rect x="736" y="547" width="1" height="3"/><rect x="738" y="547" width="1" height="3"/><rect x="741" y="547" width="1" height="3"/><rect x="744" y="547" width="1" height="3"/><rect x="746" y="547" width="1" height="3"/><rect x="749" y="547" width="1" height="3"/><rect x="751" y="547" width="1" height="3"/><rect x="754" y="547" width="1" height="3"/><rect x="756" y="547" width="1" height="3"/><rect x="759" y="547" width="1" height="3"/><rect x="762" y="547" width="1" height="3"/><rect x="764" y="547" width="1" height="3"/><rect x="767" y="547" width="1" height="3"/><rect x="769" y="547" width="1" height="3"/><rect x="772" y="547" width="1" height="3"/><rect x="774" y="547" width="1" height="3"/><rect x="777" y="547" width="1" height="3"/><rect x="779" y="547" width="1" height="3"/><rect x="782" y="547" width="1" height="3"/><rect x="785" y="547" width="1" height="3"/><rect x="787" y="547" width="1" height="3"/><rect x="790" y="547" width="1" height="3"/><rect x="792" y="547" width="1" height="3"/><rect x="795" y="547" width="1" height="3"/><rect x="797" y="547" width="1" height="3"/><rect x="800" y="547" width="1" height="3"/><rect x="803" y="547" width="1" height="3"/><rect x="805" y="547" width="1" height="3"/><rect x="808" y="547" width="1" height="3"/><rect x="810" y="547" width="1" height="3"/><rect x="813" y="547" width="1" height="3"/><rect x="815" y="547" width="1" height="3"/><rect x="818" y="547" width="1" height="3"/><rect x="821" y="547" width="1" height="3"/><rect x="823" y="547" width="1" height="3"/><rect x="826" y="547" width="1" height="3"/><rect x="828" y="547" width="1" height="3"/><rect x="831" y="547" width="1" height="3"/><rect x="833" y="547" width="1" height="3"/><rect x="836" y="547" width="1" height="3"/><rect x="839" y="547" width="1" height="3"/><rect x="841" y="547" width="1" height="3"/><rect x="844" y="547" width="1" height="3"/><rect x="846" y="547" width="1" height="3"/><rect x="849" y="547" width="1" height="3"/><rect x="851" y="547" width="1" height="3"/><rect x="854" y="547" width="1" height="3"/><rect x="857" y="547" width="1" height="3"/><rect x="859" y="547" width="1" height="3"/><rect x="862" y="547" width="1" height="3"/><rect x="864" y="547" width="1" height="3"/><rect x="867" y="547" width="1" height="3"/><rect x="869" y="547" width="1" height="3"/><rect x="872" y="547" width="1" height="3"/><rect x="875" y="547" width="1" height="3"/><rect x="877" y="547" width="1" height="3"/><rect x="880" y="547" width="1" height="3"/><rect x="882" y="547" width="1" height="3"/><rect x="885" y="547" width="1" height="3"/><rect x="887" y="547" width="1" height="3"/><rect x="890" y="547" width="1" height="3"/><rect x="893" y="547" width="1" height="3"/><rect x="895" y="547" width="1" height="3"/><rect x="898" y="547" width="1" height="3"/><rect x="900" y="547" width="1" height="3"/><rect x="903" y="547" width="1" height="3"/><rect x="905" y="547" width="1" height="3"/><rect x="908" y="547" width="1" height="3"/><rect x="911" y="547" width="1" height="3"/><rect x="913" y="547" width="1" height="3"/><rect x="916" y="547" width="1" height="3"/><rect x="918" y="547" width="1" height="3"/><rect x="921" y="547" width="1" height="3"/><rect x="923" y="547" width="1" height="3"/><rect x="926" y="547" width="1" height="3"/><rect x="929" y="547" width="1" height="3"/><rect x="931" y="547" width="1" height="3"/><rect x="934" y="547" width="1" height="3"/><rect x="936" y="547" width="1" height="3"/><rect x="939" y="547" width="1" height="3"/><rect x="941" y="547" width="1" height="3"/><rect x="944" y="547" width="1" height="3"/><rect x="947" y="547" width="1" height="3"/><rect x="949" y="547" width="1" height="3"/><rect x="952" y="547" width="1" height="3"/><rect x="954" y="547" width="1" height="3"/><rect x="957" y="547" width="1" height="3"/><rect x="959" y="547" width="1" height="3"/><rect x="962" y="547" width="1" height="3"/><rect x="965" y="547" width="1" height="3"/><rect x="967" y="547" width="1" height="3"/><rect x="970" y="547" width="1" height="3"/><rect x="972" y="547" width="1" height="3"/><rect x="975" y="547" width="1" height="3"/><rect x="977" y="547" width="1" height="3"/><rect x="980" y="547" width="1" height="3"/><rect x="983" y="547" width="1" height="3"/><rect x="985" y="547" width="1" height="3"/><rect x="988" y="547" width="1" height="3"/><rect x="990" y="547" width="1" height="3"/><rect x="993" y="547" width="1" height="3"/><rect x="995" y="547" width="1" height="3"/><rect x="998" y="547" width="1" height="3"/><rect x="1001" y="547" width="1" height="3"/><rect x="1003" y="547" width="1" height="3"/><rect x="1006" y="547" width="1" height="3"/><rect x="1008" y="547" width="1" height="3"/><rect x="1011" y="547" width="1" height="3"/><rect x="1013" y="547" width="1" height="3"/><rect x="1016" y="547" width="1" height="3"/><rect x="1019" y="547" width="1" height="3"/><rect x="1021" y="547" width="1" height="3"/><rect x="1024" y="547" width="1" height="3"/><rect x="1026" y="547" width="1" height="3"/><rect x="1029" y="547" width="1" height="3"/><rect x="1031" y="547" width="1" height="3"/><rect x="1034" y="547" width="1" height="3"/><rect x="1037" y="547" width="1" height="3"/><rect x="1039" y="547" width="1" height="3"/><rect x="1042" y="547" width="1" height="3"/><rect x="1044" y="547" width="1" height="3"/><rect x="1047" y="547" width="1" height="3"/><rect x="1049" y="547" width="1" height="3"/><rect x="1052" y="547" width="1" height="3"/><rect x="1055" y="547" width="1" height="3"/><rect x="1057" y="547" width="1" height="3"/><rect x="1060" y="547" width="1" height="3"/><rect x="1062" y="547" width="1" height="3"/><rect x="1065" y="547" width="1" height="3"/><rect x="1067" y="547" width="1" height="3"/><rect x="1070" y="547" width="1" height="3"/><rect x="1073" y="547" width="1" height="3"/><rect x="1075" y="547" width="1" height="3"/><rect x="1078" y="547" width="1" height="3"/><rect x="1080" y="547" width="1" height="3"/><rect x="1083" y="547" width="1" height="3"/><rect x="1085" y="547" width="1" height="3"/><rect x="1088" y="547" width="1" height="3"/><rect x="1091" y="547" width="1" height="3"/><rect x="1093" y="547" width="1" height="3"/><rect x="1096" y="547" width="1" height="3"/><rect x="1098" y="547" width="1" height="3"/><rect x="1101" y="547" width="1" height="3"/><rect x="1103" y="547" width="1" height="3"/><rect x="1106" y="547" width="1" height="3"/><rect x="1109" y="547" width="1" height="3"/><rect x="1111" y="547" width="1" height="3"/><rect x="1114" y="547" width="1" height="3"/><rect x="1116" y="547" width="1" height="3"/><rect x="1119" y="547" width="1" height="3"/><rect x="1121" y="547" width="1" height="3"/><rect x="1124" y="547" width="1" height="3"/><rect x="1127" y="547" width="1" height="3"/><rect x="1129" y="547" width="1" height="3"/><rect x="1132" y="547" width="1" height="3"/><rect x="1134" y="547" width="1" height="3"/><rect x="1137" y="547" width="1" height="3"/>
<rect x="64" y="33" width="1" height="514"/><rect x="1140" y="33" width="1" height="514"/><rect x="64" y="33" width="1077" height="1"/><rect x="64" y="546" width="1077" height="1"/>
<rect x="61" y="546" width="3" height="1"/>
<rect x="61" y="494" width="3" height="1"/>
<rect x="61" y="443" width="3" height="1"/>
<rect x="61" y="392" width="3" height="1"/>
<rect x="61" y="341" width="3" height="1"/>
<rect x="61" y="289" width="3" height="1"/>
<rect x="61" y="238" width="3" height="1"/>
<rect x="61" y="187" width="3" height="1"/>
<rect x="61" y="136" width="3" height="1"/>
<rect x="61" y="84" width="3" height="1"/>
<rect x="61" y="33" width="3" height="1"/>
</g>
<rect x="1144" y="0" width="1" height="624" fill="#3a3a40" shape-rendering="crispEdges"/>
<text x="58.4" y="549.8" font-size="11" text-anchor="end" fill="#000">0</text>
<text x="58.4" y="497.8" font-size="11" text-anchor="end" fill="#000">20</text>
<text x="58.4" y="446.8" font-size="11" text-anchor="end" fill="#000">40</text>
<text x="58.4" y="395.8" font-size="11" text-anchor="end" fill="#000">60</text>
<text x="58.4" y="344.8" font-size="11" text-anchor="end" fill="#000">80</text>
<text x="58.4" y="292.8" font-size="11" text-anchor="end" fill="#000">100</text>
<text x="58.4" y="241.8" font-size="11" text-anchor="end" fill="#000">120</text>
<text x="58.4" y="190.8" font-size="11" text-anchor="end" fill="#000">140</text>
<text x="58.4" y="139.8" font-size="11" text-anchor="end" fill="#000">160</text>
<text x="58.4" y="87.8" font-size="11" text-anchor="end" fill="#000">180</text>
<text x="58.4" y="36.8" font-size="11" text-anchor="end" fill="#000">200</text>
<text transform="translate(68.90,593.3) rotate(-90)" class="xl" font-size="9.25" fill="#000" stroke="#000" stroke-width="0.2">09:39:50</text>
<text transform="translate(86.89,593.3) rotate(-90)" class="xl" font-size="9.25" fill="#000" stroke="#000" stroke-width="0.2">09:39:50</text>
<text transform="translate(104.89,593.3) rotate(-90)" class="xl" font-size="9.25" fill="#000" stroke="#000" stroke-width="0.2">09:39:50</text>
<text transform="translate(122.88,593.3) rotate(-90)" class="xl" font-size="9.25" fill="#000" stroke="#000" stroke-width="0.2">09:39:50</text>
<text transform="translate(140.87,593.3) rotate(-90)" class="xl" font-size="9.25" fill="#000" stroke="#000" stroke-width="0.2">09:39:50</text>
<text transform="translate(158.87,593.3) rotate(-90)" class="xl" font-size="9.25" fill="#000" stroke="#000" stroke-width="0.2">09:39:51</text>
<text transform="translate(176.86,593.3) rotate(-90)" class="xl" font-size="9.25" fill="#000" stroke="#000" stroke-width="0.2">09:39:51</text>
<text transform="translate(194.85,593.3) rotate(-90)" class="xl" font-size="9.25" fill="#000" stroke="#000" stroke-width="0.2">09:39:51</text>
<text transform="translate(212.85,593.3) rotate(-90)" class="xl" font-size="9.25" fill="#000" stroke="#000" stroke-width="0.2">09:39:51</text>
<text transform="translate(230.84,593.3) rotate(-90)" class="xl" font-size="9.25" fill="#000" stroke="#000" stroke-width="0.2">09:39:51</text>
<text transform="translate(248.84,593.3) rotate(-90)" class="xl" font-size="9.25" fill="#000" stroke="#000" stroke-width="0.2">09:39:51</text>
<text transform="translate(266.83,593.3) rotate(-90)" class="xl" font-size="9.25" fill="#000" stroke="#000" stroke-width="0.2">09:39:51</text>
<text transform="translate(284.82,593.3) rotate(-90)" class="xl" font-size="9.25" fill="#000" stroke="#000" stroke-width="0.2">09:39:51</text>
<text transform="translate(302.82,593.3) rotate(-90)" class="xl" font-size="9.25" fill="#000" stroke="#000" stroke-width="0.2">09:39:51</text>
<text transform="translate(320.81,593.3) rotate(-90)" class="xl" font-size="9.25" fill="#000" stroke="#000" stroke-width="0.2">09:39:51</text>
<text transform="translate(338.80,593.3) rotate(-90)" class="xl" font-size="9.25" fill="#000" stroke="#000" stroke-width="0.2">09:39:51</text>
<text transform="translate(356.80,593.3) rotate(-90)" class="xl" font-size="9.25" fill="#000" stroke="#000" stroke-width="0.2">09:39:51</text>
<text transform="translate(374.79,593.3) rotate(-90)" class="xl" font-size="9.25" fill="#000" stroke="#000" stroke-width="0.2">09:39:51</text>
<text transform="translate(392.78,593.3) rotate(-90)" class="xl" font-size="9.25" fill="#000" stroke="#000" stroke-width="0.2">09:39:51</text>
<text transform="translate(410.78,593.3) rotate(-90)" class="xl" font-size="9.25" fill="#000" stroke="#000" stroke-width="0.2">09:39:52</text>
<text transform="translate(428.77,593.3) rotate(-90)" class="xl" font-size="9.25" fill="#000" stroke="#000" stroke-width="0.2">09:39:52</text>
<text transform="translate(446.76,593.3) rotate(-90)" class="xl" font-size="9.25" fill="#000" stroke="#000" stroke-width="0.2">09:39:52</text>
<text transform="translate(464.76,593.3) rotate(-90)" class="xl" font-size="9.25" fill="#000" stroke="#000" stroke-width="0.2">09:39:52</text>
<text transform="translate(482.75,593.3) rotate(-90)" class="xl" font-size="9.25" fill="#000" stroke="#000" stroke-width="0.2">09:39:52</text>
<text transform="translate(500.74,593.3) rotate(-90)" class="xl" font-size="9.25" fill="#000" stroke="#000" stroke-width="0.2">09:39:52</text>
<text transform="translate(518.74,593.3) rotate(-90)" class="xl" font-size="9.25" fill="#000" stroke="#000" stroke-width="0.2">09:39:52</text>
<text transform="translate(536.73,593.3) rotate(-90)" class="xl" font-size="9.25" fill="#000" stroke="#000" stroke-width="0.2">09:39:52</text>
<text transform="translate(554.73,593.3) rotate(-90)" class="xl" font-size="9.25" fill="#000" stroke="#000" stroke-width="0.2">09:39:52</text>
<text transform="translate(572.72,593.3) rotate(-90)" class="xl" font-size="9.25" fill="#000" stroke="#000" stroke-width="0.2">09:39:52</text>
<text transform="translate(590.71,593.3) rotate(-90)" class="xl" font-size="9.25" fill="#000" stroke="#000" stroke-width="0.2">09:39:52</text>
<text transform="translate(608.71,593.3) rotate(-90)" class="xl" font-size="9.25" fill="#000" stroke="#000" stroke-width="0.2">09:39:52</text>
<text transform="translate(626.70,593.3) rotate(-90)" class="xl" font-size="9.25" fill="#000" stroke="#000" stroke-width="0.2">09:39:52</text>
<text transform="translate(644.69,593.3) rotate(-90)" class="xl" font-size="9.25" fill="#000" stroke="#000" stroke-width="0.2">09:39:52</text>
<text transform="translate(662.69,593.3) rotate(-90)" class="xl" font-size="9.25" fill="#000" stroke="#000" stroke-width="0.2">09:39:53</text>
<text transform="translate(680.68,593.3) rotate(-90)" class="xl" font-size="9.25" fill="#000" stroke="#000" stroke-width="0.2">09:39:53</text>
<text transform="translate(698.67,593.3) rotate(-90)" class="xl" font-size="9.25" fill="#000" stroke="#000" stroke-width="0.2">09:39:53</text>
<text transform="translate(716.67,593.3) rotate(-90)" class="xl" font-size="9.25" fill="#000" stroke="#000" stroke-width="0.2">09:39:53</text>
<text transform="translate(734.66,593.3) rotate(-90)" class="xl" font-size="9.25" fill="#000" stroke="#000" stroke-width="0.2">09:39:53</text>
<text transform="translate(752.65,593.3) rotate(-90)" class="xl" font-size="9.25" fill="#000" stroke="#000" stroke-width="0.2">09:39:53</text>
<text transform="translate(770.65,593.3) rotate(-90)" class="xl" font-size="9.25" fill="#000" stroke="#000" stroke-width="0.2">09:39:53</text>
<text transform="translate(788.64,593.3) rotate(-90)" class="xl" font-size="9.25" fill="#000" stroke="#000" stroke-width="0.2">09:39:53</text>
<text transform="translate(806.63,593.3) rotate(-90)" class="xl" font-size="9.25" fill="#000" stroke="#000" stroke-width="0.2">09:39:53</text>
<text transform="translate(824.63,593.3) rotate(-90)" class="xl" font-size="9.25" fill="#000" stroke="#000" stroke-width="0.2">09:39:53</text>
<text transform="translate(842.62,593.3) rotate(-90)" class="xl" font-size="9.25" fill="#000" stroke="#000" stroke-width="0.2">09:39:53</text>
<text transform="translate(860.62,593.3) rotate(-90)" class="xl" font-size="9.25" fill="#000" stroke="#000" stroke-width="0.2">09:39:53</text>
<text transform="translate(878.61,593.3) rotate(-90)" class="xl" font-size="9.25" fill="#000" stroke="#000" stroke-width="0.2">09:39:53</text>
<text transform="translate(896.60,593.3) rotate(-90)" class="xl" font-size="9.25" fill="#000" stroke="#000" stroke-width="0.2">09:39:53</text>
<text transform="translate(914.60,593.3) rotate(-90)" class="xl" font-size="9.25" fill="#000" stroke="#000" stroke-width="0.2">09:39:54</text>
<text transform="translate(932.59,593.3) rotate(-90)" class="xl" font-size="9.25" fill="#000" stroke="#000" stroke-width="0.2">09:39:54</text>
<text transform="translate(950.58,593.3) rotate(-90)" class="xl" font-size="9.25" fill="#000" stroke="#000" stroke-width="0.2">09:39:54</text>
<text transform="translate(968.58,593.3) rotate(-90)" class="xl" font-size="9.25" fill="#000" stroke="#000" stroke-width="0.2">09:39:54</text>
<text transform="translate(986.57,593.3) rotate(-90)" class="xl" font-size="9.25" fill="#000" stroke="#000" stroke-width="0.2">09:39:54</text>
<text transform="translate(1004.56,593.3) rotate(-90)" class="xl" font-size="9.25" fill="#000" stroke="#000" stroke-width="0.2">09:39:54</text>
<text transform="translate(1022.56,593.3) rotate(-90)" class="xl" font-size="9.25" fill="#000" stroke="#000" stroke-width="0.2">09:39:54</text>
<text transform="translate(1040.55,593.3) rotate(-90)" class="xl" font-size="9.25" fill="#000" stroke="#000" stroke-width="0.2">09:39:54</text>
<text transform="translate(1058.54,593.3) rotate(-90)" class="xl" font-size="9.25" fill="#000" stroke="#000" stroke-width="0.2">09:39:54</text>
<text transform="translate(1076.54,593.3) rotate(-90)" class="xl" font-size="9.25" fill="#000" stroke="#000" stroke-width="0.2">09:39:54</text>
<text transform="translate(1094.53,593.3) rotate(-90)" class="xl" font-size="9.25" fill="#000" stroke="#000" stroke-width="0.2">09:39:54</text>
<text transform="translate(1112.52,593.3) rotate(-90)" class="xl" font-size="9.25" fill="#000" stroke="#000" stroke-width="0.2">09:39:54</text>
<text transform="translate(1130.52,593.3) rotate(-90)" class="xl" font-size="9.25" fill="#000" stroke="#000" stroke-width="0.2">09:39:54</text>
<text x="571.2" y="18.6" font-size="16" font-weight="bold" text-anchor="middle" fill="#000">响应时间图</text>
<text transform="translate(15.0,291.7) rotate(-90)" font-size="10" text-anchor="middle" fill="#223">毫秒</text>
<rect x="543.3" y="607.2" width="5.4" height="5.4" fill="#08084a"/>
<text class="lg" x="554.2" y="612.9" font-size="10" fill="#000"><tspan letter-spacing="0.25">HTTP</tspan><tspan x="578.8" font-size="10.2">请求</tspan></text>
</svg></body></html>
